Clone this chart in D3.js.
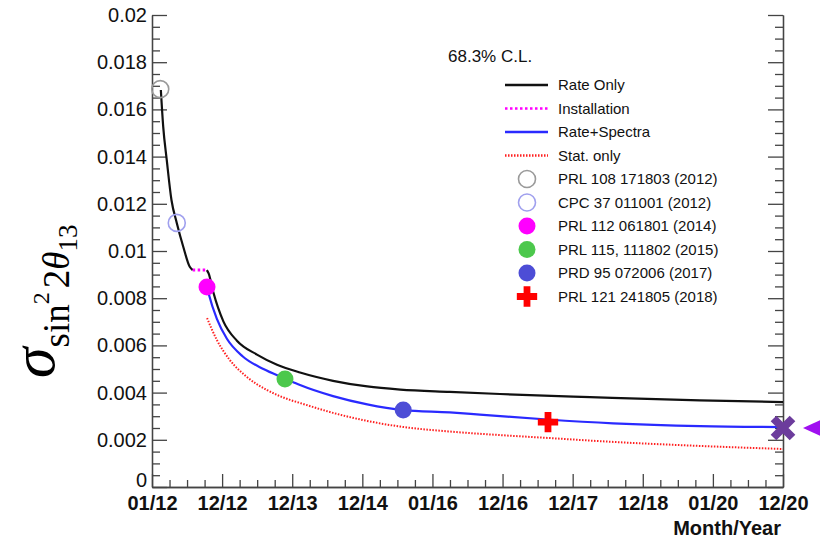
<!DOCTYPE html>
<html>
<head>
<meta charset="utf-8">
<script src="https://cdn.jsdelivr.net/npm/d3@7"></script>
<style>
	body { margin: 0; background: #fff; }
	text { font-family: "Liberation Sans", Arial, sans-serif; fill: #111; }
	.axis path, .axis line { stroke: #444; stroke-width: 1.3px; }
</style>
</head>
<body>
<div id="chart-div"></div>
<script>
//Chart data (x in months since 01/12, y = sigma of sin^2 2theta13)

	var xTickLabels = ["01/12","12/12","12/13","12/14","01/16","12/16","12/17","12/18","01/20","12/20"];
	var xMax = 107;
	var yMax = 0.02;
	var yTickValues = [0,0.002,0.004,0.006,0.008,0.01,0.012,0.014,0.016,0.018,0.02];

	//Rate only, before installation
	var rateOnlyEarly = [[1.5,0.01682],[1.9,0.01527],[2.5,0.01386],[3.3,0.01216],[4.2,0.01119],[5.3,0.01018],[6.4,0.00933],[6.9,0.00919]];
	//Installation gap
	var installation = [[6.9,0.00919],[9.3,0.00919]];
	//Rate only, after installation
	var rateOnlyLate = [[9.3,0.00919],[9.6,0.00905],[10.4,0.00825],[12.1,0.00702],[14.4,0.00620],[17.8,0.00561],[21.2,0.00518],[25.1,0.00485],[30.7,0.00450],[36.5,0.00426],[42.1,0.00413],[50.5,0.00403],[59.0,0.00394],[74.3,0.00381],[92.9,0.00367],[107,0.00360]];
	//Rate + spectra
	var rateSpectra = [[9.33,0.00847],[9.6,0.00820],[11.0,0.00712],[12.7,0.00628],[15.4,0.00553],[18.9,0.00500],[22.55,0.00460],[25.1,0.00432],[30.7,0.00385],[36.5,0.00350],[42.6,0.00326],[50.5,0.00316],[55.6,0.00307],[67.0,0.00286],[78.2,0.00270],[92.9,0.00258],[107,0.00254]];
	//Statistical only
	var statOnly = [[9.33,0.00716],[11.0,0.00623],[13.2,0.00538],[16.1,0.00466],[19.5,0.00411],[23.4,0.00369],[25.1,0.00356],[30.7,0.00314],[36.5,0.00280],[42.1,0.00256],[50.5,0.00235],[59.0,0.00220],[67.0,0.00208],[78.2,0.00191],[92.9,0.00174],[107,0.00161]];

	//Published measurements
	var measLabels = ["PRL 108 171803 (2012)","CPC 37 011001 (2012)","PRL 112 061801 (2014)","PRL 115, 111802 (2015)","PRD 95 072006 (2017)","PRL 121 241805 (2018)"];
	var measX = [1.4, 4.2, 9.33, 22.55, 42.6, 67.15];
	var measY = [0.01686, 0.01119, 0.00847, 0.00458, 0.00326, 0.00275];

	//Final projection
	var projX = 107, projY = 0.0025;

	var lineLabels = ["Rate Only","Installation","Rate+Spectra","Stat. only"];

//Styles

	var lineStyles = [
		{stroke:"#111", width:2.2, dash:null},
		{stroke:"#ff00ff", width:3, dash:"2.5,2.5"},
		{stroke:"#2a2aff", width:2.2, dash:null},
		{stroke:"#ff2020", width:2, dash:"1.5,1.5"}
	];
	var markStyles = [
		{type:"circle", fill:"none", stroke:"#9a9a9a"},
		{type:"circle", fill:"none", stroke:"#a0a0ee"},
		{type:"circle", fill:"#ff00ff", stroke:"none"},
		{type:"circle", fill:"#4cc84c", stroke:"none"},
		{type:"circle", fill:"#4d4dd6", stroke:"none"},
		{type:"cross", fill:"#ff0000", stroke:"none"}
	];

//Canvas

	var W = 820, H = 539;
	var plot = {left: 152, right: 783, top: 15, bottom: 487};

	var svg = d3.select("#chart-div").append("svg")
		.attr("width", W)
		.attr("height", H);

	var x = d3.scaleLinear().domain([0, xMax]).range([plot.left, plot.right]);
	var y = d3.scaleLinear().domain([0, yMax]).range([plot.bottom, plot.top]);

	var xMajor = d3.range(xTickLabels.length).map(function(i) { return i * xMax / (xTickLabels.length - 1); });
	var xMinor = [];
	for (var i = 0; i < xMajor.length - 1; i++) {
		for (var j = 1; j < 4; j++) { xMinor.push(xMajor[i] + j * (xMajor[i+1] - xMajor[i]) / 4); }
	}
	var yMinor = d3.range(0, 40).map(function(k) { return k * 0.0005; }).filter(function(v) { return Math.round(v * 10000) % 20 !== 0; });

//Axes

	//x axis (minor ticks then major ticks with labels)
	svg.append("g").attr("class","axis")
		.attr("transform","translate(0," + plot.bottom + ")")
		.call(d3.axisBottom(x).tickValues(xMinor).tickSizeInner(-7).tickSizeOuter(0).tickFormat(""));
	var xAxis = svg.append("g").attr("class","axis")
		.attr("transform","translate(0," + plot.bottom + ")")
		.call(d3.axisBottom(x).tickValues(xMajor).tickSizeInner(-13).tickSizeOuter(0).tickPadding(5)
			.tickFormat(function(d, i) { return xTickLabels[i]; }));
	xAxis.selectAll("text")
		.style("font-size","20px").style("font-weight","bold")
		.attr("dy","0.9em");

	//left y axis
	svg.append("g").attr("class","axis")
		.attr("transform","translate(" + plot.left + ",0)")
		.call(d3.axisLeft(y).tickValues(yMinor).tickSizeInner(-8).tickSizeOuter(0).tickFormat(""));
	var yAxis = svg.append("g").attr("class","axis")
		.attr("transform","translate(" + plot.left + ",0)")
		.call(d3.axisLeft(y).tickValues(yTickValues).tickSizeInner(-15).tickSizeOuter(0).tickPadding(5)
			.tickFormat(function(d) { return d === 0 ? "0" : d3.format("~g")(d); }));
	yAxis.selectAll("text").style("font-size","20px");
	//the zero label sits just above the first date label
	yAxis.selectAll("text").filter(function(d) { return d === 0; }).attr("dy","-0.05em");

	//right frame with mirrored ticks
	svg.append("g").attr("class","axis")
		.attr("transform","translate(" + plot.right + ",0)")
		.call(d3.axisRight(y).tickValues(yMinor).tickSizeInner(-8).tickSizeOuter(0).tickFormat(""));
	svg.append("g").attr("class","axis")
		.attr("transform","translate(" + plot.right + ",0)")
		.call(d3.axisRight(y).tickValues(yTickValues).tickSizeInner(-15).tickSizeOuter(0).tickFormat(""));

	//axis titles
	svg.append("text")
		.attr("x", plot.right - 2).attr("y", 535)
		.attr("text-anchor","end")
		.style("font-size","20px").style("font-weight","bold")
		.text("Month/Year");

	var yTitle = svg.append("text")
		.attr("transform","translate(54,378) rotate(-90)")
		.style("font-family","'Liberation Serif', 'Times New Roman', serif")
		.style("fill","#000");
	yTitle.append("tspan").style("font-size","62px").style("font-style","italic").text("σ");
	yTitle.append("tspan").style("font-size","37px").attr("dy","15").text("sin");
	yTitle.append("tspan").style("font-size","24px").attr("dy","-20").text("2");
	yTitle.append("tspan").style("font-size","37px").attr("dy","20").attr("dx","4").text("2");
	yTitle.append("tspan").style("font-size","37px").style("font-style","italic").text("θ");
	yTitle.append("tspan").style("font-size","27px").attr("dy","8").text("13");

//Curves

	var line = d3.line()
		.x(function(d) { return x(d[0]); })
		.y(function(d) { return y(d[1]); })
		.curve(d3.curveMonotoneX);

	var curves = [
		{data: statOnly, style: 3},
		{data: rateOnlyEarly, style: 0},
		{data: rateOnlyLate, style: 0},
		{data: rateSpectra, style: 2},
		{data: installation, style: 1}
	];
	svg.append("g").selectAll("path")
		.data(curves)
		.enter().append("path")
		.attr("d", function(d) { return line(d.data); })
		.attr("fill","none")
		.attr("stroke", function(d) { return lineStyles[d.style].stroke; })
		.attr("stroke-width", function(d) { return lineStyles[d.style].width; })
		.attr("stroke-dasharray", function(d) { return lineStyles[d.style].dash; });

//Markers

	var crossSym = d3.symbol().type(d3.symbolCross).size(230);

	function drawMarker(g, s) {
		if (s.type === "circle") {
			g.append("circle").attr("r", 8.5)
				.attr("fill", s.fill).attr("stroke", s.stroke).attr("stroke-width", 1.6);
		} else {
			g.append("path").attr("d", crossSym()).attr("fill", s.fill);
		}
	}

	measX.forEach(function(mx, i) {
		var g = svg.append("g").attr("transform","translate(" + x(mx) + "," + y(measY[i]) + ")");
		drawMarker(g, markStyles[i]);
	});

	//Projection marker (X) and arrow
	var proj = svg.append("g").attr("transform","translate(" + x(projX) + "," + y(projY) + ")");
	proj.append("path")
		.attr("d","M-9.5,-9.5L9.5,9.5M-9.5,9.5L9.5,-9.5")
		.attr("stroke","#6c3c9c").attr("stroke-width",8).attr("fill","none");
	proj.append("path")
		.attr("d","M20,0L42,-10L42,10Z")
		.attr("fill","#a010f0");

//Legend

	svg.append("text")
		.attr("x", 448).attr("y", 62)
		.style("font-size","17px")
		.text("68.3% C.L.");

	var legend = svg.append("g").attr("class","legend");
	var rowY = function(i) { return 85 + i * 23.5; };

	lineLabels.forEach(function(lbl, i) {
		var s = lineStyles[i];
		legend.append("line")
			.attr("x1", 505).attr("x2", 548)
			.attr("y1", rowY(i)).attr("y2", rowY(i))
			.attr("stroke", s.stroke)
			.attr("stroke-width", 2.5)
			.attr("stroke-dasharray", s.dash);
		legend.append("text")
			.attr("x", 558).attr("y", rowY(i)).attr("dy","0.36em")
			.style("font-size","15px")
			.text(lbl);
	});

	measLabels.forEach(function(lbl, i) {
		var r = i + lineLabels.length;
		var g = legend.append("g").attr("transform","translate(527," + rowY(r) + ")");
		drawMarker(g, markStyles[i]);
		legend.append("text")
			.attr("x", 558).attr("y", rowY(r)).attr("dy","0.36em")
			.style("font-size","15px")
			.text(lbl);
	});
</script>
</body>
</html>
